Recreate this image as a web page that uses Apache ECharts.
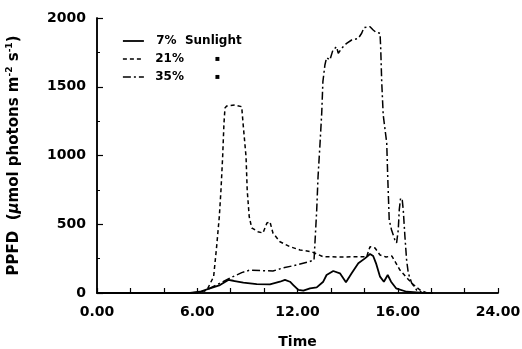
<!DOCTYPE html>
<html>
<head>
<meta charset="utf-8">
<script src="https://cdn.jsdelivr.net/npm/echarts@6/dist/echarts.min.js"></script>
<style>
  html, body { margin: 0; padding: 0; background: #fff; }
  #main { width: 522px; height: 349px; }
</style>
</head>
<body>
<div id="main"></div>
<script>
// x axis ticks: the figure labels its 18 h tick "16.00"
var xTickValues = [0, 6, 12, 18, 24];
var xTickLabels = ['0.00', '6.00', '12.00', '16.00', '24.00'];

// 7% sunlight (solid)
var sun7Time = [0, 5.57, 6.16, 6.76, 7.36, 7.86, 8.16, 8.76, 9.56, 10.35, 10.95, 11.25, 11.55, 11.75, 12.05, 12.35, 12.75, 13.15, 13.54, 13.74, 14.14, 14.54, 14.9, 15.24, 15.64, 16.04, 16.34, 16.53, 16.7, 16.94, 17.17, 17.4, 17.6, 17.9, 18.53, 19.33, 20.1];
var sun7Ppfd = [0, 0, 9, 34, 58, 95, 89, 75, 65, 63, 82, 95, 82, 58, 22, 17, 34, 41, 82, 131, 160, 143, 78, 143, 216, 252, 284, 269, 216, 119, 82, 131, 82, 34, 9, 2, 0];

// 21% (dashed)
var sun21Time = [0, 6.0, 6.58, 6.98, 7.16, 7.32, 7.42, 7.52, 7.6, 7.66, 7.76, 8.26, 8.66, 8.74, 8.92, 8.99, 9.11, 9.26, 9.63, 9.93, 10.17, 10.35, 10.53, 10.95, 11.55, 12.15, 12.85, 13.52, 14.54, 16.14, 16.34, 16.64, 16.94, 17.3, 17.65, 18.13, 18.55, 18.9, 19.33, 19.75];
var sun21Ppfd = [0, 0, 22, 119, 337, 555, 749, 991, 1236, 1345, 1360, 1367, 1355, 1236, 991, 749, 555, 473, 446, 436, 509, 519, 436, 373, 337, 313, 300, 264, 262, 264, 337, 327, 276, 262, 269, 167, 109, 65, 22, 0];

// 35% (dash-dot)
var sun35Time = [0, 5.57, 6.34, 6.94, 7.54, 8.14, 8.66, 9.16, 9.93, 10.53, 11.13, 11.95, 12.63, 12.99, 13.15, 13.23, 13.35, 13.45, 13.52, 13.64, 13.74, 13.94, 14.12, 14.34, 14.44, 14.64, 14.94, 15.24, 15.64, 15.84, 15.98, 16.34, 16.53, 16.7, 16.94, 16.98, 17.04, 17.13, 17.34, 17.4, 17.49, 17.63, 17.83, 17.93, 18.03, 18.09, 18.17, 18.27, 18.33, 18.43, 18.53, 18.63, 18.83, 19.13, 19.5];
var sun35Ppfd = [0, 0, 9, 46, 82, 119, 148, 167, 162, 160, 182, 204, 225, 240, 604, 846, 1091, 1309, 1537, 1658, 1711, 1695, 1767, 1791, 1743, 1780, 1816, 1840, 1852, 1889, 1930, 1937, 1913, 1896, 1889, 1780, 1537, 1295, 1091, 846, 531, 458, 385, 364, 458, 604, 691, 676, 604, 409, 240, 145, 73, 22, 0];

function pairs(t, v) {
    return t.map(function (x, i) { return [x, v[i]]; });
}

var myChart = echarts.init(document.getElementById('main'));
var font = 'DejaVu Sans';
var dash21 = [4, 3];
var dash35 = [8, 3, 2, 3];

var option = {
    backgroundColor: '#fff',
    animation: false,
    textStyle: { fontFamily: font },
    grid: { left: 97, right: 24, top: 18, bottom: 56, outerBoundsMode: 'none' },
    legend: {
        orient: 'vertical',
        left: 122,
        top: 35,
        padding: 0,
        itemWidth: 21,
        itemHeight: 14,
        itemGap: 6,
        selectedMode: false,
        itemStyle: { opacity: 0 },
        formatter: function (name) {
            if (name === '7% Sunlight') {
                return '{p|7%}{s|Sunlight}';
            }
            return '{p|' + name + '}{d|▪}';
        },
        textStyle: {
            color: '#000',
            fontFamily: font,
            fontWeight: 'bold',
            fontSize: 12,
            rich: {
                p: { width: 35, align: 'right', fontFamily: font, fontWeight: 'bold', fontSize: 12 },
                s: { padding: [0, 0, 0, 1], fontFamily: font, fontWeight: 'bold', fontSize: 12 },
                d: { width: 36, align: 'right', fontSize: 8, fontWeight: 'bold' }
            }
        },
        data: [
            { name: '7% Sunlight', itemStyle: { opacity: 0 }, lineStyle: { color: '#000', width: 1.8, type: 'solid' } },
            { name: '21%', itemStyle: { opacity: 0 }, lineStyle: { color: '#000', width: 1.5, type: dash21 } },
            { name: '35%', itemStyle: { opacity: 0 }, lineStyle: { color: '#000', width: 1.5, type: dash35 } }
        ]
    },
    xAxis: [{
        type: 'value',
        min: 0,
        max: 24,
        interval: 2,
        name: 'Time',
        nameLocation: 'middle',
        nameGap: 42,
        nameTextStyle: { color: '#000', fontFamily: font, fontWeight: 'bold', fontSize: 14 },
        axisLine: { lineStyle: { color: '#000', width: 1.5 } },
        axisTick: { inside: true, length: 5, lineStyle: { color: '#000', width: 1.2 } },
        axisLabel: {
            color: '#000',
            fontFamily: font,
            fontWeight: 'bold',
            fontSize: 14,
            margin: 12,
            formatter: function (v) {
                var i = xTickValues.indexOf(v);
                return i >= 0 ? xTickLabels[i] : '';
            }
        },
        splitLine: { show: false }
    }, {
        type: 'value',
        position: 'top',
        min: 0,
        max: 24,
        axisLine: { lineStyle: { color: '#000', width: 1.5 } },
        axisTick: { show: false },
        axisLabel: { show: false },
        splitLine: { show: false }
    }],
    yAxis: [{
        type: 'value',
        min: 0,
        max: 2000,
        interval: 500,
        name: '{n|PPFD  (}{mu|μ}{n|mol photons m}{sup|-2}{n| s}{sup|-1}{n|)}',
        nameLocation: 'middle',
        nameGap: 73,
        nameTextStyle: {
            color: '#000',
            rich: {
                n: { fontFamily: font, fontWeight: 'bold', fontSize: 15, lineHeight: 19 },
                mu: { fontFamily: font, fontWeight: 'bold', fontStyle: 'italic', fontSize: 15, lineHeight: 19 },
                sup: { fontFamily: font, fontWeight: 'bold', fontSize: 9, lineHeight: 19, verticalAlign: 'top' }
            }
        },
        axisLine: { show: true, lineStyle: { color: '#000', width: 1.5 } },
        axisTick: { inside: true, length: 6, lineStyle: { color: '#000', width: 1.2 } },
        minorTick: { show: true, splitNumber: 2, length: 3, lineStyle: { color: '#000', width: 1 } },
        axisLabel: {
            color: '#000',
            fontFamily: font,
            fontWeight: 'bold',
            fontSize: 14,
            margin: 11,
            formatter: function (v) { return String(v); }
        },
        splitLine: { show: false }
    }, {
        type: 'value',
        position: 'right',
        min: 0,
        max: 2000,
        axisLine: { show: true, lineStyle: { color: '#000', width: 1.5 } },
        axisTick: { show: false },
        axisLabel: { show: false },
        splitLine: { show: false }
    }],
    series: [{
        name: '7% Sunlight',
        type: 'line',
        symbol: 'none',
        lineStyle: { color: '#000', width: 1.8, type: 'solid' },
        itemStyle: { color: '#000' },
        data: pairs(sun7Time, sun7Ppfd)
    }, {
        name: '21%',
        type: 'line',
        symbol: 'none',
        lineStyle: { color: '#000', width: 1.5, type: dash21 },
        itemStyle: { color: '#000' },
        data: pairs(sun21Time, sun21Ppfd)
    }, {
        name: '35%',
        type: 'line',
        symbol: 'none',
        lineStyle: { color: '#000', width: 1.5, type: dash35 },
        itemStyle: { color: '#000' },
        data: pairs(sun35Time, sun35Ppfd)
    }]
};

myChart.setOption(option);
</script>
</body>
</html>
